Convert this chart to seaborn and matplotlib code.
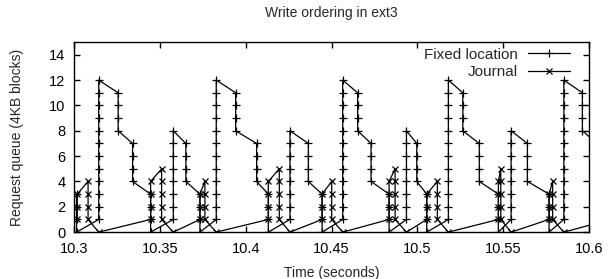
import pandas as pd
import matplotlib.pyplot as plt
from matplotlib.lines import Line2D
import seaborn as sns

# queue samples: each entry is (time, queue lengths logged at that time, in order)
fixed_cols = [
    (10.3016, [3, 2, 1, 0]),
    (10.3145, [1, 2, 3, 4, 5, 6, 7, 8, 9, 10, 11, 12]),
    (10.3258, [11, 10, 9, 8]),
    (10.3342, [7, 6, 5, 4]),
    (10.3447, [3, 2, 1, 0]),
    (10.3579, [1, 2, 3, 4, 5, 6, 7, 8]),
    (10.3652, [7, 6, 5, 4]),
    (10.3734, [3, 2, 1, 0]),
    (10.3829, [1, 2, 3, 4, 5, 6, 7, 8, 9, 10, 11, 12]),
    (10.3942, [11, 10, 9, 8]),
    (10.4064, [7, 6, 5, 4]),
    (10.4132, [3, 2, 1, 0]),
    (10.4258, [1, 2, 3, 4, 5, 6, 7, 8]),
    (10.4365, [7, 6, 5, 4]),
    (10.4445, [3, 2, 1, 0]),
    (10.4565, [1, 2, 3, 4, 5, 6, 7, 8, 9, 10, 11, 12]),
    (10.4652, [11, 10, 9, 8]),
    (10.4730, [7, 6, 5, 4]),
    (10.4835, [3, 2, 1, 0]),
    (10.4936, [1, 2, 3, 4, 5, 6, 7, 8]),
    (10.4996, [7, 6, 5, 4]),
    (10.5054, [3, 2, 1, 0]),
    (10.5180, [1, 2, 3, 4, 5, 6, 7, 8, 9, 10, 11, 12]),
    (10.5264, [11, 10, 9, 8]),
    (10.5360, [7, 6, 5, 4]),
    (10.5471, [3, 2, 1, 0]),
    (10.5545, [1, 2, 3, 4, 5, 6, 7, 8]),
    (10.5640, [7, 6, 5, 4]),
    (10.5766, [3, 2, 1, 0]),
    (10.5852, [1, 2, 3, 4, 5, 6, 7, 8, 9, 10, 11, 12]),
    (10.5960, [11, 10, 9, 8]),
    (10.6045, [7, 6, 5, 4]),
]

journal_cols = [
    (10.3020, [1, 2, 3]),
    (10.3083, [4, 3, 2, 1]),
    (10.3145, [0]),
    (10.3447, [1, 2, 3, 4]),
    (10.3511, [5, 4, 3, 2, 1]),
    (10.3579, [0]),
    (10.3734, [1, 2, 3]),
    (10.3763, [4, 3, 2, 1]),
    (10.3829, [0]),
    (10.4132, [1, 2, 3, 4]),
    (10.4196, [5, 4, 3, 2, 1]),
    (10.4258, [0]),
    (10.4445, [1, 2, 3]),
    (10.4501, [4, 3, 2, 1]),
    (10.4565, [0]),
    (10.4835, [1, 2, 3, 4]),
    (10.4870, [5, 4, 3, 2, 1]),
    (10.4936, [0]),
    (10.5054, [1, 2, 3]),
    (10.5116, [4, 3, 2, 1]),
    (10.5180, [0]),
    (10.5471, [1, 2, 3, 4]),
    (10.5485, [5, 4, 3, 2, 1]),
    (10.5545, [0]),
    (10.5766, [1, 2, 3]),
    (10.5787, [4, 3, 2, 1]),
    (10.5852, [0]),
    (10.6125, [1, 2, 3]),
]

x_ticks = [10.3, 10.35, 10.4, 10.45, 10.5, 10.55, 10.6]
x_labels = ["10.3", "10.35", "10.4", "10.45", "10.5", "10.55", "10.6"]
y_ticks = [0, 2, 4, 6, 8, 10, 12, 14]


def flatten(cols):
    rows = []
    for t, vals in cols:
        for v in vals:
            rows.append((t, v))
    return pd.DataFrame(rows, columns=["time", "queue"])


fixed_df = flatten(fixed_cols)
journal_df = flatten(journal_cols)

sns.set_style("ticks")
plt.rcParams['font.family'] = ['Liberation Sans', 'DejaVu Sans']

fig = plt.figure(figsize=(6.1, 2.79), dpi=100)
ax = fig.add_axes([0.121, 0.168, 0.845, 0.681])

sns.lineplot(data=fixed_df, x="time", y="queue", sort=False, estimator=None,
             color="black", lw=0.9, marker="+", markersize=6, markeredgewidth=0.9,
             markeredgecolor="black", legend=False, ax=ax)
sns.lineplot(data=journal_df, x="time", y="queue", sort=False, estimator=None,
             color="black", lw=0.9, marker="x", markersize=5, markeredgewidth=0.9,
             markeredgecolor="black", legend=False, ax=ax)

ax.set_xlim(10.3, 10.6)
ax.set_ylim(0, 15)
ax.set_xticks(x_ticks)
ax.set_xticklabels(x_labels)
ax.set_yticks(y_ticks)
ax.tick_params(direction="in", top=True, right=True, length=4, width=1,
               labelsize=10.5, colors="black")
ax.tick_params(axis="x", pad=7)
ax.tick_params(axis="y", pad=6)
for s in ax.spines.values():
    s.set_color("black")
    s.set_linewidth(1)

ax.set_title("Write ordering in ext3", fontsize=10, pad=18)
ax.set_xlabel("Time (seconds)", fontsize=10, labelpad=7)
ax.set_ylabel("Request queue (4KB blocks)", fontsize=10, labelpad=18)

handles = [
    Line2D([], [], color="black", lw=0.9, marker="+", markersize=6, markeredgewidth=0.9),
    Line2D([], [], color="black", lw=0.9, marker="x", markersize=5, markeredgewidth=0.9),
]
ax.legend(handles, ["Fixed location", "Journal"], loc="upper right", frameon=False,
          bbox_to_anchor=(0.963, 0.97), borderpad=0, borderaxespad=0,
          markerfirst=False, fontsize=11, numpoints=1, handlelength=2.75,
          handletextpad=0.65, labelspacing=0.2)

plt.savefig("out.png", dpi=100)
